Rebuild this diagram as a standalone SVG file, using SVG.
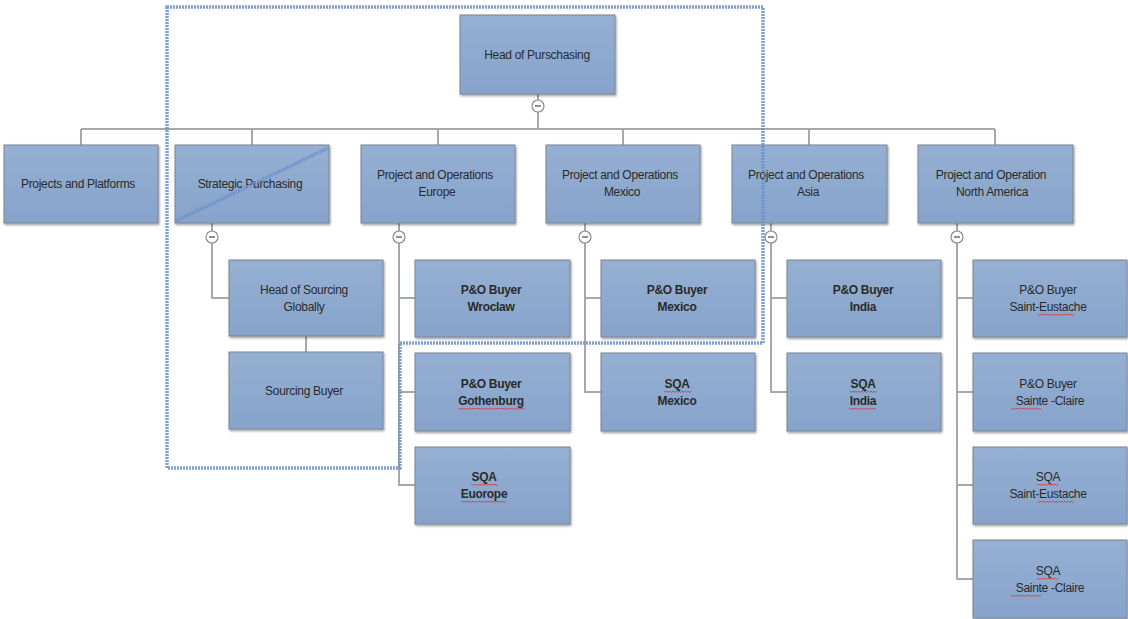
<svg xmlns="http://www.w3.org/2000/svg" width="1128" height="619" viewBox="0 0 1128 619">
<defs>
<linearGradient id="g" x1="0" y1="0" x2="0" y2="1">
<stop offset="0" stop-color="#95b0d2"/>
<stop offset="1" stop-color="#87a3cb"/>
</linearGradient>
<filter id="sh" x="-5%" y="-5%" width="115%" height="120%">
<feDropShadow dx="1" dy="1.5" stdDeviation="1.2" flood-color="#000" flood-opacity="0.4"/>
</filter>
</defs>
<style>
.box{fill:url(#g);stroke:#7a8594;stroke-width:1;filter:url(#sh)}
.t{font-family:"Liberation Sans",Arial,sans-serif;font-size:12px;fill:#2a2a2a;text-anchor:middle;letter-spacing:-0.3px}
.b{font-weight:bold}
.ln{stroke:#a8a8a8;stroke-width:2;fill:none}
.tog circle{fill:#fff;stroke:#8a8a8a;stroke-width:1.2}
.tog line{stroke:#555;stroke-width:1.3}
.mark{fill:none;stroke:#6890cd;stroke-width:3.5;stroke-dasharray:2 1;opacity:0.85}
.sp{fill:none;stroke:#e03030;stroke-width:0.8}
</style>
<rect width="1128" height="619" fill="#fff"/>

<g id="connectors">
<path class="ln" d="M538,94 V129 M81,129 H995 M81,129 V145 M252,129 V145 M438,129 V145 M623,129 V145 M809,129 V145 M995,129 V145"/>
<path class="ln" d="M212,223 V298 H229 M306,336 V352"/>
<path class="ln" d="M399,223 V485 H415 M399,298 H415 M399,392 H415"/>
<path class="ln" d="M585,223 V392 H601 M585,298 H601"/>
<path class="ln" d="M771,223 V392 H787 M771,298 H787"/>
<path class="ln" d="M957,223 V579 H973 M957,298 H973 M957,392 H973 M957,485 H973"/>
<g class="tog">
<circle cx="538" cy="106" r="6"/><line x1="535" y1="106" x2="541" y2="106"/>
<circle cx="212" cy="237" r="6"/><line x1="209" y1="237" x2="215" y2="237"/>
<circle cx="399" cy="237" r="6"/><line x1="396" y1="237" x2="402" y2="237"/>
<circle cx="585" cy="237" r="6"/><line x1="582" y1="237" x2="588" y2="237"/>
<circle cx="771" cy="237" r="6"/><line x1="768" y1="237" x2="774" y2="237"/>
<circle cx="957" cy="237" r="6"/><line x1="954" y1="237" x2="960" y2="237"/>
</g>
</g>

<g id="n-head"><rect class="box" x="460" y="15" width="155" height="79"/><text class="t" x="537" y="59">Head of Purschasing</text></g>

<g id="n-pp"><rect class="box" x="4" y="145" width="154" height="78"/><text class="t" x="78" y="188">Projects and Platforms</text></g>
<g id="n-sp"><rect class="box" x="175" y="145" width="154" height="78"/><text class="t" x="250" y="188">Strategic Purchasing</text></g>
<g id="n-eu"><rect class="box" x="361" y="145" width="154" height="78"/><text class="t" x="435" y="179">Project and Operations</text><text class="t" x="437" y="196">Europe</text></g>
<g id="n-mx"><rect class="box" x="546" y="145" width="154" height="78"/><text class="t" x="620" y="179">Project and Operations</text><text class="t" x="622" y="196">Mexico</text></g>
<g id="n-as"><rect class="box" x="732" y="145" width="155" height="78"/><text class="t" x="806" y="179">Project and Operations</text><text class="t" x="808" y="196">Asia</text></g>
<g id="n-na"><rect class="box" x="918" y="145" width="155" height="78"/><text class="t" x="991" y="179">Project and Operation</text><text class="t" x="992" y="196">North America</text></g>

<g id="n-hsg"><rect class="box" x="229" y="260" width="154" height="76"/><text class="t" x="304" y="294">Head of Sourcing</text><text class="t" x="304" y="311">Globally</text></g>
<g id="n-sb"><rect class="box" x="229" y="352" width="154" height="77"/><text class="t" x="304" y="395">Sourcing Buyer</text></g>

<g id="n-wro"><rect class="box" x="415" y="260" width="155" height="77"/><text class="t b" x="491" y="294">P&amp;O Buyer</text><text class="t b" x="491" y="311">Wroclaw</text></g>
<g id="n-got"><rect class="box" x="415" y="353" width="155" height="78"/><text class="t b" x="491" y="388">P&amp;O Buyer</text><text class="t b" x="491" y="405">Gothenburg</text><path class="sp" d="M458,408 l1.5,1.5 l1.5,-1.5 l1.5,1.5 l1.5,-1.5 l1.5,1.5 l1.5,-1.5 l1.5,1.5 l1.5,-1.5 l1.5,1.5 l1.5,-1.5 l1.5,1.5 l1.5,-1.5 l1.5,1.5 l1.5,-1.5 l1.5,1.5 l1.5,-1.5 l1.5,1.5 l1.5,-1.5 l1.5,1.5 l1.5,-1.5 l1.5,1.5 l1.5,-1.5 l1.5,1.5 l1.5,-1.5 l1.5,1.5 l1.5,-1.5 l1.5,1.5 l1.5,-1.5 l1.5,1.5 l1.5,-1.5 l1.5,1.5 l1.5,-1.5 l1.5,1.5 l1.5,-1.5 l1.5,1.5 l1.5,-1.5 l1.5,1.5 l1.5,-1.5 l1.5,1.5 l1.5,-1.5 l1.5,1.5 l1.5,-1.5 l1.5,1.5 l1.5,-1.5"/></g>
<g id="n-sqaeu"><rect class="box" x="415" y="447" width="155" height="77"/><text class="t b" x="484" y="481">SQA</text><text class="t b" x="484" y="498">Euorope</text><path class="sp" d="M471,484 l1.5,1.5 l1.5,-1.5 l1.5,1.5 l1.5,-1.5 l1.5,1.5 l1.5,-1.5 l1.5,1.5 l1.5,-1.5 l1.5,1.5 l1.5,-1.5 l1.5,1.5 l1.5,-1.5 l1.5,1.5 l1.5,-1.5 l1.5,1.5 l1.5,-1.5 l1.5,1.5 l1.5,-1.5"/><path class="sp" d="M461,501 l1.5,1.5 l1.5,-1.5 l1.5,1.5 l1.5,-1.5 l1.5,1.5 l1.5,-1.5 l1.5,1.5 l1.5,-1.5 l1.5,1.5 l1.5,-1.5 l1.5,1.5 l1.5,-1.5 l1.5,1.5 l1.5,-1.5 l1.5,1.5 l1.5,-1.5 l1.5,1.5 l1.5,-1.5 l1.5,1.5 l1.5,-1.5 l1.5,1.5 l1.5,-1.5 l1.5,1.5 l1.5,-1.5 l1.5,1.5 l1.5,-1.5 l1.5,1.5 l1.5,-1.5 l1.5,1.5 l1.5,-1.5"/></g>

<g id="n-pomx"><rect class="box" x="601" y="260" width="154" height="77"/><text class="t b" x="677" y="294">P&amp;O Buyer</text><text class="t b" x="677" y="311">Mexico</text></g>
<g id="n-sqamx"><rect class="box" x="601" y="353" width="154" height="78"/><text class="t b" x="677" y="388">SQA</text><text class="t b" x="677" y="405">Mexico</text><path class="sp" d="M664,391 l1.5,1.5 l1.5,-1.5 l1.5,1.5 l1.5,-1.5 l1.5,1.5 l1.5,-1.5 l1.5,1.5 l1.5,-1.5 l1.5,1.5 l1.5,-1.5 l1.5,1.5 l1.5,-1.5 l1.5,1.5 l1.5,-1.5 l1.5,1.5 l1.5,-1.5 l1.5,1.5 l1.5,-1.5"/></g>

<g id="n-poin"><rect class="box" x="787" y="260" width="154" height="77"/><text class="t b" x="863" y="294">P&amp;O Buyer</text><text class="t b" x="863" y="311">India</text></g>
<g id="n-sqain"><rect class="box" x="787" y="353" width="154" height="78"/><text class="t b" x="863" y="388">SQA</text><text class="t b" x="863" y="405">India</text><path class="sp" d="M850,391 l1.5,1.5 l1.5,-1.5 l1.5,1.5 l1.5,-1.5 l1.5,1.5 l1.5,-1.5 l1.5,1.5 l1.5,-1.5 l1.5,1.5 l1.5,-1.5 l1.5,1.5 l1.5,-1.5 l1.5,1.5 l1.5,-1.5 l1.5,1.5 l1.5,-1.5 l1.5,1.5 l1.5,-1.5"/><path class="sp" d="M849,408 l1.5,1.5 l1.5,-1.5 l1.5,1.5 l1.5,-1.5 l1.5,1.5 l1.5,-1.5 l1.5,1.5 l1.5,-1.5 l1.5,1.5 l1.5,-1.5 l1.5,1.5 l1.5,-1.5 l1.5,1.5 l1.5,-1.5 l1.5,1.5 l1.5,-1.5 l1.5,1.5 l1.5,-1.5"/></g>

<g id="n-pose"><rect class="box" x="973" y="260" width="154" height="77"/><text class="t" x="1048" y="294">P&amp;O Buyer</text><text class="t" x="1048" y="311">Saint-Eustache</text><path class="sp" d="M1038,314 l1.5,1.5 l1.5,-1.5 l1.5,1.5 l1.5,-1.5 l1.5,1.5 l1.5,-1.5 l1.5,1.5 l1.5,-1.5 l1.5,1.5 l1.5,-1.5 l1.5,1.5 l1.5,-1.5 l1.5,1.5 l1.5,-1.5 l1.5,1.5 l1.5,-1.5 l1.5,1.5 l1.5,-1.5 l1.5,1.5 l1.5,-1.5 l1.5,1.5 l1.5,-1.5 l1.5,1.5 l1.5,-1.5"/></g>
<g id="n-posc"><rect class="box" x="973" y="353" width="154" height="78"/><text class="t" x="1048" y="388">P&amp;O Buyer</text><text class="t" x="1050" y="405">Sainte -Claire</text><path class="sp" d="M1011,408 l1.5,1.5 l1.5,-1.5 l1.5,1.5 l1.5,-1.5 l1.5,1.5 l1.5,-1.5 l1.5,1.5 l1.5,-1.5 l1.5,1.5 l1.5,-1.5 l1.5,1.5 l1.5,-1.5 l1.5,1.5 l1.5,-1.5 l1.5,1.5 l1.5,-1.5 l1.5,1.5 l1.5,-1.5 l1.5,1.5 l1.5,-1.5"/></g>
<g id="n-sqase"><rect class="box" x="973" y="447" width="154" height="77"/><text class="t" x="1048" y="481">SQA</text><text class="t" x="1048" y="498">Saint-Eustache</text><path class="sp" d="M1037,484 l1.5,1.5 l1.5,-1.5 l1.5,1.5 l1.5,-1.5 l1.5,1.5 l1.5,-1.5 l1.5,1.5 l1.5,-1.5 l1.5,1.5 l1.5,-1.5 l1.5,1.5 l1.5,-1.5 l1.5,1.5 l1.5,-1.5"/><path class="sp" d="M1038,501 l1.5,1.5 l1.5,-1.5 l1.5,1.5 l1.5,-1.5 l1.5,1.5 l1.5,-1.5 l1.5,1.5 l1.5,-1.5 l1.5,1.5 l1.5,-1.5 l1.5,1.5 l1.5,-1.5 l1.5,1.5 l1.5,-1.5 l1.5,1.5 l1.5,-1.5 l1.5,1.5 l1.5,-1.5 l1.5,1.5 l1.5,-1.5 l1.5,1.5 l1.5,-1.5 l1.5,1.5 l1.5,-1.5"/></g>
<g id="n-sqasc"><rect class="box" x="973" y="540" width="154" height="78"/><text class="t" x="1048" y="575">SQA</text><text class="t" x="1050" y="592">Sainte -Claire</text><path class="sp" d="M1037,578 l1.5,1.5 l1.5,-1.5 l1.5,1.5 l1.5,-1.5 l1.5,1.5 l1.5,-1.5 l1.5,1.5 l1.5,-1.5 l1.5,1.5 l1.5,-1.5 l1.5,1.5 l1.5,-1.5 l1.5,1.5 l1.5,-1.5"/><path class="sp" d="M1011,595 l1.5,1.5 l1.5,-1.5 l1.5,1.5 l1.5,-1.5 l1.5,1.5 l1.5,-1.5 l1.5,1.5 l1.5,-1.5 l1.5,1.5 l1.5,-1.5 l1.5,1.5 l1.5,-1.5 l1.5,1.5 l1.5,-1.5 l1.5,1.5 l1.5,-1.5 l1.5,1.5 l1.5,-1.5 l1.5,1.5 l1.5,-1.5"/></g>

<g id="annotation">
<path class="mark" d="M167,7 H763 V343 H400 V468 H167 Z"/>
<path class="mark" d="M176,221 L328,148" stroke-width="3"/>
</g>
</svg>
